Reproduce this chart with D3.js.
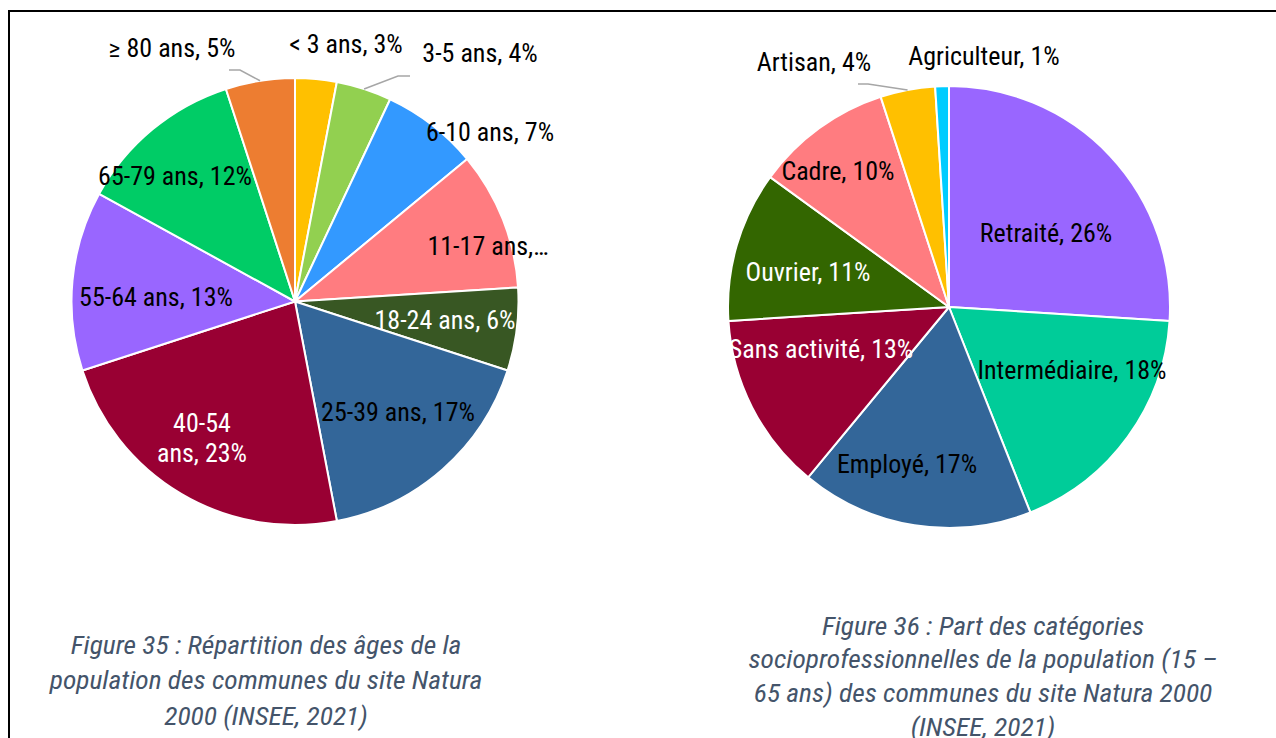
<!DOCTYPE html>
<html lang="fr">
<head>
<meta charset="utf-8">
<script src="https://cdn.jsdelivr.net/npm/d3@7"></script>
<style>
  html, body { margin: 0; padding: 0; background: #fff; }
  svg { display: block; }
</style>
</head>
<body>
<svg id="chart" width="1276" height="738"></svg>
<script>
// Répartition des âges (figure 35)
const ageCategories = ["< 3 ans", "3-5 ans", "6-10 ans", "11-17 ans", "18-24 ans",
  "25-39 ans", "40-54 ans", "55-64 ans", "65-79 ans", "≥ 80 ans"];
const ageValues = [3, 4, 7, 10, 6, 17, 23, 13, 12, 5];

// Catégories socioprofessionnelles (figure 36)
const cspCategories = ["Retraité", "Intermédiaire", "Employé", "Sans activité",
  "Ouvrier", "Cadre", "Artisan", "Agriculteur"];
const cspValues = [26, 18, 17, 13, 11, 10, 4, 1];

const caption35 = ["Figure 35 : Répartition des âges de la",
  "population des communes du site Natura", "2000 (INSEE, 2021)"];
const caption36 = ["Figure 36 : Part des catégories",
  "socioprofessionnelles de la population (15 –",
  "65 ans) des communes du site Natura 2000", "(INSEE, 2021)"];

// ---- styling & layout ----
const ageColors = ["#FFC000", "#92D050", "#3399FF", "#FF7C80", "#385723",
  "#336699", "#990033", "#9966FF", "#00CC66", "#ED7D31"];
const cspColors = ["#9966FF", "#00CC99", "#336699", "#990033",
  "#336600", "#FF7C80", "#FFC000", "#00CCFF"];

const FONT = "'Liberation Sans Narrow', 'Arial Narrow', 'Roboto Condensed', 'Liberation Sans', sans-serif";
const LABEL_SIZE = 25, LABEL_STRETCH = 1.04;
const CAPTION_SIZE = 25, CAPTION_STRETCH = 1.1;

// label placement relative to each pie centre; lead = elbow + end of leader line
const ageLabelLayout = {
  "< 3 ans":   { x: 51,   y: -257, fill: "#000" },
  "3-5 ans":   { x: 185,  y: -248, fill: "#000", lead: [[103, -225.5], [115, -225.5]] },
  "6-10 ans":  { x: 195,  y: -169, fill: "#000" },
  "11-17 ans": { x: 193,  y: -55,  fill: "#000", text: ["11-17 ans,…"] },
  "18-24 ans": { x: 150,  y: 19,   fill: "#fff" },
  "25-39 ans": { x: 103,  y: 111,  fill: "#000" },
  "40-54 ans": { x: -93,  y: 137,  fill: "#fff", text: ["40-54", "ans, 23%"] },
  "55-64 ans": { x: -139, y: -4,   fill: "#000" },
  "65-79 ans": { x: -120, y: -125, fill: "#000" },
  "≥ 80 ans":  { x: -123, y: -253, fill: "#000", lead: [[-55, -231.5], [-66, -231.5]] }
};
const cspLabelLayout = {
  "Retraité":      { x: 97,   y: -74,  fill: "#000" },
  "Intermédiaire": { x: 123,  y: 63,   fill: "#000" },
  "Employé":       { x: -42,  y: 157,  fill: "#000" },
  "Sans activité": { x: -128, y: 42,   fill: "#fff" },
  "Ouvrier":       { x: -141, y: -35,  fill: "#fff" },
  "Cadre":         { x: -111, y: -136, fill: "#000" },
  "Artisan":       { x: -135, y: -245, fill: "#000", lead: [[-81, -223], [-91, -223]] },
  "Agriculteur":   { x: 35,   y: -251, fill: "#000" }
};

const svg = d3.select("#chart");

// outer frame (top and left rules)
svg.append("path")
  .attr("d", "M9,738 L9,11 L1276,11")
  .attr("fill", "none").attr("stroke", "#000").attr("stroke-width", 2);

// multi-line centred text, horizontally stretched to mimic a narrow face
function stretchedText(parent, lines, x, y, lh, size, stretch) {
  const t = parent.append("text")
    .attr("text-anchor", "middle")
    .attr("font-family", FONT)
    .attr("font-size", size)
    .attr("transform", `translate(${x},${y}) scale(${stretch},1)`);
  const y0 = -(lines.length - 1) * lh / 2;
  lines.forEach((ln, i) => {
    t.append("tspan").attr("x", 0).attr("y", y0 + i * lh).attr("dy", "0.35em").text(ln);
  });
  return t;
}

function drawPie(opts) {
  const { cx, cy, r, categories, values, colors, layout } = opts;
  const data = categories.map((c, i) => ({ name: c, value: values[i], color: colors[i] }));
  const pie = d3.pie().value(d => d.value).sort(null).startAngle(0).endAngle(2 * Math.PI);
  const arc = d3.arc().innerRadius(0).outerRadius(r);
  const g = svg.append("g").attr("transform", `translate(${cx},${cy})`);
  const arcs = pie(data);

  g.selectAll("path.slice").data(arcs).join("path")
    .attr("class", "slice")
    .attr("d", arc)
    .attr("fill", d => d.data.color)
    .attr("stroke", "#fff").attr("stroke-width", 2).attr("stroke-linejoin", "round");

  // leader lines from the slice's outer edge (mid-angle) to the label
  arcs.forEach(a => {
    const L = layout[a.data.name];
    if (!L || !L.lead) return;
    const mid = (a.startAngle + a.endAngle) / 2;
    const p0 = [Math.sin(mid) * r, -Math.cos(mid) * r];
    g.append("polyline")
      .attr("points", [p0, ...L.lead].map(p => p.join(",")).join(" "))
      .attr("fill", "none").attr("stroke", "#A6A6A6").attr("stroke-width", 1.5);
  });

  arcs.forEach(a => {
    const L = layout[a.data.name];
    const lines = L.text || [`${a.data.name}, ${a.data.value}%`];
    stretchedText(g, lines, L.x, L.y, 30, LABEL_SIZE, LABEL_STRETCH).attr("fill", L.fill);
  });
}

drawPie({ cx: 295, cy: 301.5, r: 223.5, categories: ageCategories, values: ageValues,
  colors: ageColors, layout: ageLabelLayout });
drawPie({ cx: 949, cy: 307, r: 221, categories: cspCategories, values: cspValues,
  colors: cspColors, layout: cspLabelLayout });

function caption(lines, x, yFirst, lh) {
  const yMid = yFirst + (lines.length - 1) * lh / 2;
  stretchedText(svg, lines, x, yMid, lh, CAPTION_SIZE, CAPTION_STRETCH)
    .attr("font-style", "italic")
    .attr("fill", "#44546A");
}
caption(caption35, 266, 645, 35.5);
caption(caption36, 983, 626, 33.7);
</script>
</body>
</html>
